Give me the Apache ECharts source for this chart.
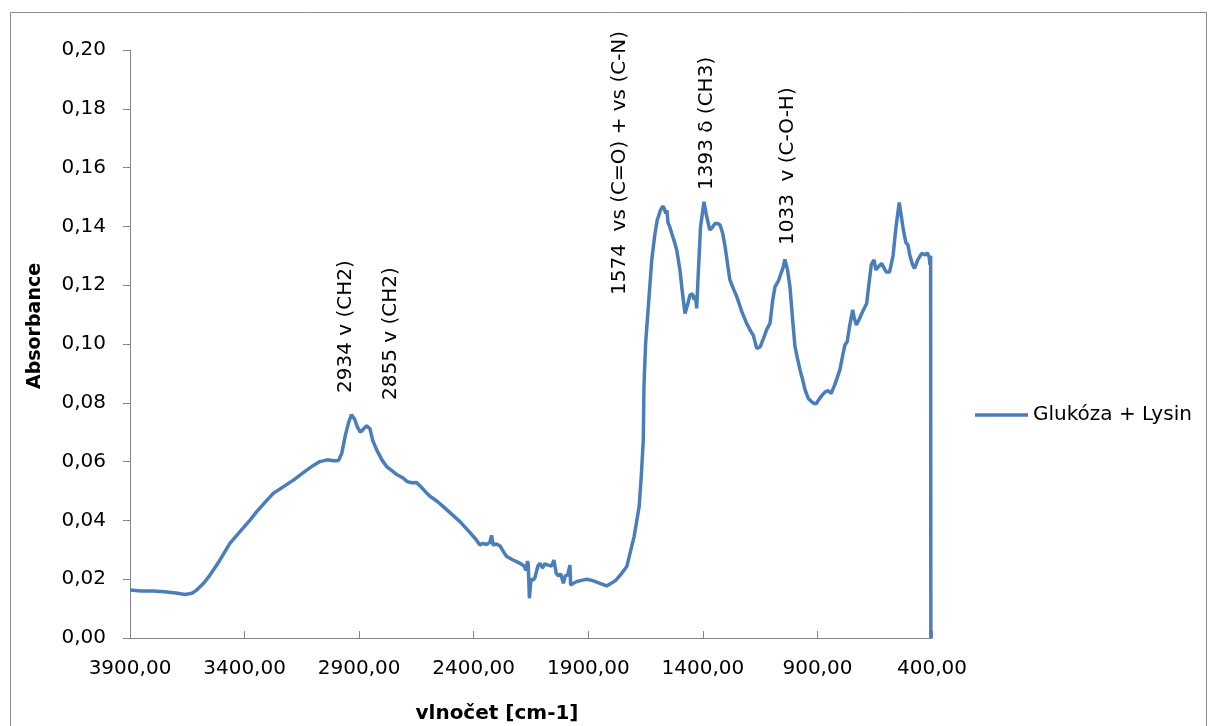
<!DOCTYPE html>
<html>
<head>
<meta charset="utf-8">
<title>Glukóza + Lysin – IR spektrum</title>
<script src="https://cdn.jsdelivr.net/npm/echarts@6/dist/echarts.min.js"></script>
<style>
  html, body { margin: 0; padding: 0; background: #ffffff; }
  #chart { width: 1210px; height: 726px; }
</style>
</head>
<body>
<div id="chart"></div>
<script>
// Wavenumbers [cm-1] (descending) and measured absorbance
const wavenumbers = [
  3900, 3850, 3800, 3750, 3700, 3660, 3630, 3609, 3580, 3551,
  3510, 3464, 3420, 3376, 3347, 3310, 3275, 3230, 3187, 3129,
  3100, 3071, 3040, 3010, 2990, 2976, 2960, 2947, 2934, 2920,
  2908, 2895, 2880, 2867, 2853, 2840, 2823, 2800, 2780, 2750,
  2736, 2710, 2690, 2671, 2650, 2634, 2610, 2591, 2560, 2533,
  2500, 2460, 2420, 2390, 2373, 2360, 2345, 2330, 2322, 2315,
  2300, 2285, 2270, 2256, 2230, 2198, 2180, 2172, 2165, 2162,
  2157, 2150, 2140, 2133, 2120, 2111, 2100, 2090, 2075, 2060,
  2050, 2040, 2030, 2020, 2009, 2000, 1990, 1980, 1977, 1965,
  1950, 1930, 1907, 1880, 1849, 1820, 1800, 1780, 1754, 1732,
  1718, 1700, 1689, 1678, 1668, 1660, 1657, 1650, 1638, 1623,
  1610, 1599, 1585, 1575, 1568, 1562, 1557, 1552, 1545, 1536,
  1525, 1514, 1500, 1490, 1478, 1468, 1456, 1445, 1438, 1432,
  1427, 1420, 1410, 1395, 1385, 1370, 1360, 1347, 1335, 1325,
  1313, 1303, 1290, 1282, 1265, 1252, 1230, 1209, 1190, 1180,
  1165, 1150, 1135, 1122, 1107, 1095, 1085, 1070, 1063, 1050,
  1042, 1030, 1020, 1008, 998, 987, 976, 965, 954, 940,
  932, 920, 906, 895, 880, 865, 853, 840, 825, 802,
  790, 780, 770, 760, 746, 740, 730, 720, 700, 685,
  675, 665, 653, 645, 637, 620, 600, 585, 570, 557,
  543, 525, 514, 505, 497, 485, 476, 462, 445, 430,
  420, 412, 409, 406, 405
];
const absorbance = [
  0.0163, 0.0160, 0.0160, 0.0157, 0.0153, 0.0148, 0.0152, 0.0163, 0.0185, 0.0214,
  0.0262, 0.0322, 0.0362, 0.0401, 0.0430, 0.0462, 0.0492, 0.0515, 0.0537, 0.0571,
  0.0587, 0.0600, 0.0606, 0.0603, 0.0604, 0.0628, 0.0690, 0.0730, 0.0759, 0.0745,
  0.0718, 0.0700, 0.0712, 0.0722, 0.0712, 0.0670, 0.0639, 0.0605, 0.0583, 0.0565,
  0.0556, 0.0545, 0.0532, 0.0528, 0.0529, 0.0517, 0.0497, 0.0482, 0.0465, 0.0447,
  0.0424, 0.0396, 0.0362, 0.0335, 0.0316, 0.0322, 0.0318, 0.0325, 0.0349, 0.0316,
  0.0320, 0.0313, 0.0293, 0.0277, 0.0266, 0.0254, 0.0245, 0.0230, 0.0262, 0.0250,
  0.0135, 0.0200, 0.0197, 0.0205, 0.0245, 0.0254, 0.0238, 0.0252, 0.0248, 0.0245,
  0.0265, 0.0220, 0.0211, 0.0218, 0.0186, 0.0212, 0.0214, 0.0248, 0.0180, 0.0186,
  0.0192, 0.0196, 0.0200, 0.0195, 0.0186, 0.0177, 0.0186, 0.0196, 0.0220, 0.0243,
  0.0288, 0.0345, 0.0396, 0.0447, 0.0560, 0.0673, 0.0855, 0.1000, 0.1127, 0.1286,
  0.1370, 0.1422, 0.1455, 0.1469, 0.1460, 0.1444, 0.1455, 0.1412, 0.1400, 0.1377,
  0.1350, 0.1320, 0.1252, 0.1180, 0.1104, 0.1130, 0.1167, 0.1170, 0.1150, 0.1165,
  0.1121, 0.1240, 0.1400, 0.1484, 0.1440, 0.1388, 0.1395, 0.1410, 0.1410, 0.1405,
  0.1375, 0.1331, 0.1260, 0.1218, 0.1185, 0.1161, 0.1110, 0.1070, 0.1042, 0.1030,
  0.0985, 0.0990, 0.1020, 0.1048, 0.1070, 0.1150, 0.1195, 0.1215, 0.1218, 0.1260,
  0.1288, 0.1250, 0.1195, 0.1080, 0.0991, 0.0950, 0.0912, 0.0880, 0.0844, 0.0815,
  0.0810, 0.0800, 0.0796, 0.0810, 0.0825, 0.0838, 0.0841, 0.0832, 0.0860, 0.0912,
  0.0960, 0.0997, 0.1008, 0.1059, 0.1116, 0.1090, 0.1065, 0.1080, 0.1115, 0.1138,
  0.1206, 0.1270, 0.1286, 0.1252, 0.1260, 0.1274, 0.1245, 0.1245, 0.1300, 0.1399,
  0.1481, 0.1388, 0.1345, 0.1337, 0.1303, 0.1270, 0.1257, 0.1286, 0.1308, 0.1303,
  0.1310, 0.1295, 0.1269, 0.1300, 0.0
];
// Tick values for the wavenumber axis
const xTicks = [3900, 3400, 2900, 2400, 1900, 1400, 900, 400];
// Band assignments written above the peaks
const bandLabels = [
  '2934 v (CH2)',
  '2855 v (CH2)',
  '1574  vs (C=O) + vs (C-N)',
  '1393 δ (CH3)',
  '1033  v (C-O-H)'
];
const seriesName = 'Glukóza + Lysin';

const FONT = "'DejaVu Sans', 'Liberation Sans', sans-serif";
const fmt = v => v.toFixed(2).replace('.', ',');

const chart = echarts.init(document.getElementById('chart'), null, { renderer: 'canvas' });

// label anchor points (bottom of rotated text), in pixels
const bandAnchors = [
  [346, 393], [391, 400], [620, 295], [707, 190], [788, 245]
];

const graphics = [
  {
    type: 'rect', silent: true,
    shape: { x: 10.5, y: 12.5, width: 1196, height: 730 },
    style: { fill: 'none', stroke: '#8c8c8c', lineWidth: 1 }
  },
  {
    type: 'text', x: 35, y: 326, rotation: Math.PI / 2,
    style: { text: 'Absorbance', font: 'bold 19px ' + FONT, fill: '#000',
             align: 'center', verticalAlign: 'middle' }
  },
  {
    type: 'text', x: 497, y: 714,
    style: { text: 'vlnočet [cm-1]', font: 'bold 20px ' + FONT, fill: '#000',
             align: 'center', verticalAlign: 'middle' }
  }
].concat(bandLabels.map((t, i) => ({
  type: 'text', x: bandAnchors[i][0], y: bandAnchors[i][1], rotation: Math.PI / 2,
  style: { text: t, font: '20px ' + FONT, fill: '#000', align: 'left', verticalAlign: 'middle' }
})));

chart.setOption({
  animation: false,
  backgroundColor: '#ffffff',
  grid: { left: 130, right: 278, top: 50, bottom: 88, containLabel: false },
  xAxis: {
    type: 'value',
    inverse: true,
    min: 400,
    max: 3900,
    axisLine: { show: true, onZero: false, lineStyle: { color: '#868686', width: 1 } },
    axisTick: { show: true, inside: true, length: 7, customValues: xTicks,
                lineStyle: { color: '#868686' } },
    axisLabel: { customValues: xTicks, formatter: v => fmt(v), margin: 21,
                 color: '#000', fontSize: 20, fontFamily: FONT },
    splitLine: { show: false }
  },
  yAxis: {
    type: 'value',
    min: 0,
    max: 0.2,
    interval: 0.02,
    axisLine: { show: true, lineStyle: { color: '#868686', width: 1 } },
    axisTick: { show: true, length: 7, lineStyle: { color: '#868686' } },
    axisLabel: { formatter: v => fmt(v), margin: 24, color: '#000',
                 fontSize: 20, fontFamily: FONT },
    splitLine: { show: false }
  },
  legend: {
    show: true,
    orient: 'vertical',
    left: 975,
    top: 405,
    padding: 0,
    icon: 'rect',
    itemWidth: 53,
    itemHeight: 3.5,
    itemGap: 5,
    textStyle: { fontSize: 20, fontFamily: FONT, color: '#000' },
    data: [seriesName]
  },
  series: [{
    name: seriesName,
    type: 'line',
    symbol: 'none',
    showSymbol: false,
    smooth: false,
    lineStyle: { color: '#4a7ebb', width: 3.5 },
    itemStyle: { color: '#4a7ebb' },
    data: wavenumbers.map((w, i) => [w, absorbance[i]])
  }],
  graphic: graphics
});
</script>
</body>
</html>
